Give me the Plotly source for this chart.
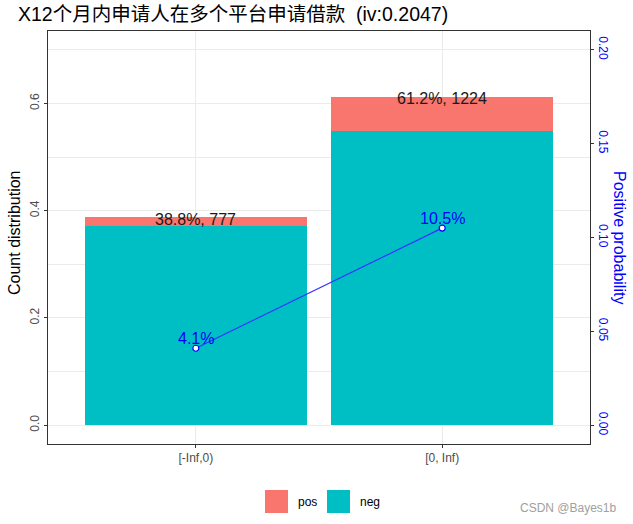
import plotly.graph_objects as go

# ---- data ----
bins = ["[-Inf,0)", "[0, Inf)"]
count = [777, 1224]
count_distr = [0.388, 0.612]
pos_distr = [0.016, 0.064]
neg_distr = [0.372, 0.548]
badprob = [0.041, 0.105]
bar_labels = ["38.8%, 777", "61.2%, 1224"]
prob_labels = ["4.1%", "10.5%"]
legend_names = ["pos", "neg"]
title_text = "X12个月内申请人在多个平台申请借款  (iv:0.2047)"

# scale: left max 0.7, right max 0.2
y_left_max = 0.7
y_right_max = 0.2
exp = 0.05 * y_left_max

W, H = 633, 524
L, R, T, B = 48, 590, 31, 444

def px_x(px):
    return (px - L) / (R - L)

def px_y(py):
    return (B - py) / (B - T)

FONT = "Liberation Sans, Arial, Noto Sans CJK SC, sans-serif"
TEAL = "#00BFC4"
SALMON = "#F8766D"
BLUE = "#0000FF"

fig = go.Figure()
fig.add_trace(go.Bar(x=bins, y=neg_distr, name="neg", marker=dict(color=TEAL, line=dict(width=0)),
                     width=0.9, hoverinfo="skip", showlegend=False))
fig.add_trace(go.Bar(x=bins, y=pos_distr, name="pos", marker=dict(color=SALMON, line=dict(width=0)),
                     width=0.9, hoverinfo="skip", showlegend=False))
fig.add_trace(go.Scatter(x=bins, y=badprob, yaxis="y2", mode="lines+markers",
                         line=dict(color="#3333FF", width=1.2),
                         marker=dict(size=6, color="white", line=dict(color=BLUE, width=1.2)),
                         showlegend=False, hoverinfo="skip"))

annotations = []
for b, v, t in zip(bins, count_distr, bar_labels):
    annotations.append(dict(x=b, y=v, xref="x", yref="y", text=t, showarrow=False,
                            yshift=-2, xanchor="center", yanchor="middle",
                            font=dict(size=16, color="#1a1a1a", family=FONT)))
for b, v, t in zip(bins, badprob, prob_labels):
    annotations.append(dict(x=b, y=v, xref="x", yref="y2", text=t, showarrow=False,
                            yshift=10, xanchor="center", yanchor="middle",
                            font=dict(size=16, color=BLUE, family=FONT)))

# manual legend (ggplot-style large keys)
shapes = []
key_colors = [SALMON, TEAL]
key_x = [265, 327]
for name, col, kx in zip(legend_names, key_colors, key_x):
    shapes.append(dict(type="rect", xref="paper", yref="paper",
                       x0=px_x(kx), x1=px_x(kx + 23), y0=px_y(513), y1=px_y(490),
                       fillcolor=col, line=dict(width=0)))
    annotations.append(dict(text=name, x=px_x(kx + 31), y=px_y(502), xref="paper", yref="paper",
                            xanchor="left", yanchor="middle", showarrow=False,
                            font=dict(size=12, color="black", family=FONT)))

annotations += [
    dict(text="Count distribution", x=px_x(14), y=px_y(233), xref="paper", yref="paper",
         xanchor="center", yanchor="middle",
         textangle=-90, showarrow=False, font=dict(size=16, color="black", family=FONT)),
    dict(text="Positive probability", x=px_x(620), y=px_y(237), xref="paper", yref="paper",
         xanchor="center", yanchor="middle",
         textangle=90, showarrow=False, font=dict(size=16, color=BLUE, family=FONT)),
    dict(text="CSDN @Bayes1b", x=px_x(619), y=px_y(508), xref="paper", yref="paper",
         xanchor="right", yanchor="middle", showarrow=False,
         font=dict(size=12, color="#A0A0A0", family=FONT)),
]

fig.update_layout(
    width=W, height=H,
    margin=dict(l=L, r=W - R, t=T, b=H - B, autoexpand=False),
    paper_bgcolor="white", plot_bgcolor="white",
    barmode="stack",
    font=dict(family=FONT, color="#4D4D4D"),
    title=dict(text=title_text, x=18 / W, xref="container", xanchor="left",
               y=1 - 14 / H, yref="container", yanchor="middle",
               font=dict(size=19.5, color="black", family=FONT)),
    xaxis=dict(range=[-0.6, 1.6], showgrid=True, gridcolor="#EBEBEB", gridwidth=1,
               showline=True, linecolor="#333333", linewidth=1, mirror=True,
               ticks="outside", ticklen=3, tickcolor="#333333",
               tickfont=dict(size=12, color="#4D4D4D"), zeroline=False),
    yaxis=dict(range=[-exp, y_left_max + exp], dtick=0.2, tick0=0, tickformat=".1f",
               showgrid=True, gridcolor="#EBEBEB", gridwidth=1,
               minor=dict(dtick=0.1, tick0=0, showgrid=True, gridcolor="#EBEBEB", gridwidth=1),
               showline=True, linecolor="#333333", linewidth=1, mirror=True,
               ticks="outside", ticklen=3, tickcolor="#333333", tickangle=-90,
               tickfont=dict(size=12, color="#4D4D4D"), zeroline=False),
    yaxis2=dict(overlaying="y", side="right",
                range=[-exp * y_right_max / y_left_max, (y_left_max + exp) * y_right_max / y_left_max],
                dtick=0.05, tick0=0, tickformat=".2f", showgrid=False, zeroline=False,
                ticks="outside", ticklen=3, tickcolor="#333333", tickangle=90,
                tickfont=dict(size=12, color=BLUE)),
    showlegend=False,
    shapes=shapes,
    annotations=annotations,
)

fig.write_html("out.html")
